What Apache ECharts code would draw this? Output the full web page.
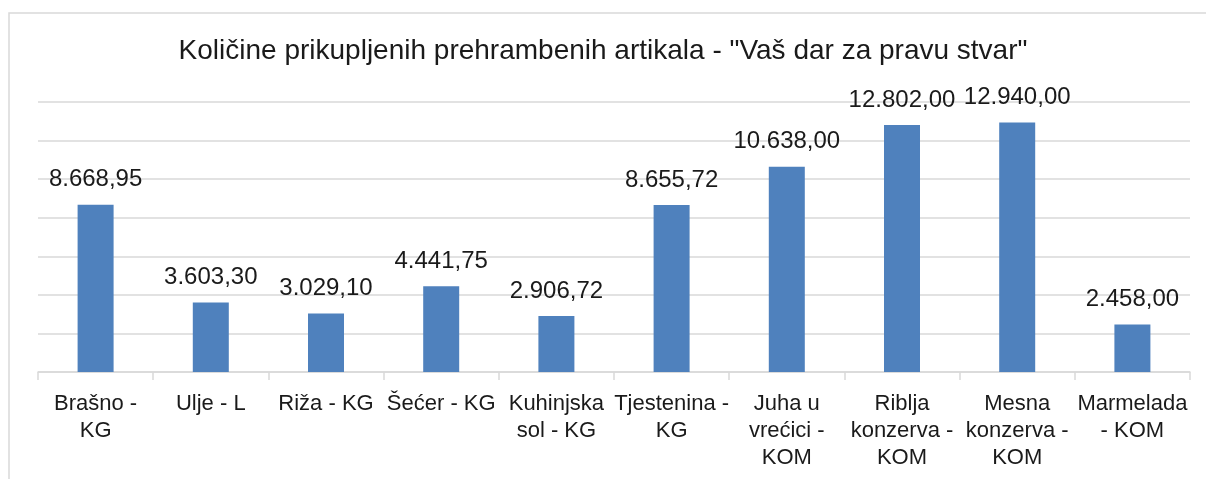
<!DOCTYPE html>
<html>
<head>
<meta charset="utf-8">
<script src="https://cdn.jsdelivr.net/npm/echarts@6/dist/echarts.min.js"></script>
<style>
	html, body { margin: 0; padding: 0; background: #fff; }
	#chart { width: 1206px; height: 479px; }
</style>
</head>
<body>
<div id="chart"></div>
<script>
	const titleText = 'Količine prikupljenih prehrambenih artikala - "Vaš dar za pravu stvar"';
	const categories = ['Brašno -\nKG', 'Ulje - L', 'Riža - KG', 'Šećer - KG', 'Kuhinjska\nsol - KG',
		'Tjestenina -\nKG', 'Juha u\nvrećici -\nKOM', 'Riblja\nkonzerva -\nKOM', 'Mesna\nkonzerva -\nKOM', 'Marmelada\n- KOM'];
	const amounts = [8668.95, 3603.30, 3029.10, 4441.75, 2906.72, 8655.72, 10638.00, 12802.00, 12940.00, 2458.00];

	// 1.234,56 style
	function fmt(v) {
		let parts = v.toFixed(2).split('.');
		let int = parts[0].replace(/\B(?=(\d{3})+(?!\d))/g, '.');
		return int + ',' + parts[1];
	}

	let chart = echarts.init(document.getElementById('chart'));
	const font = 'Liberation Sans, Arial, sans-serif';
	const option = {
		backgroundColor: '#fff',
		animation: false,
		textStyle: { fontFamily: font },
		graphic: [{
			type: 'rect',
			shape: { x: 9, y: 13, width: 1210, height: 480 },
			style: { fill: 'none', stroke: '#d9d9d9', lineWidth: 1.5 },
			silent: true
		}],
		title: {
			text: titleText,
			left: 'center',
			top: 32,
			textStyle: { color: '#1a1a1a', fontSize: 28, fontWeight: 'normal', fontFamily: font }
		},
		grid: { left: 38, right: 16, top: 102, bottom: 107 },
		xAxis: {
			type: 'category',
			data: categories,
			axisLine: { lineStyle: { color: '#d9d9d9', width: 1.5 } },
			axisTick: { show: true, alignWithLabel: false, length: 8, lineStyle: { color: '#d9d9d9', width: 1.5 } },
			axisLabel: { color: '#1a1a1a', fontSize: 22, lineHeight: 27, margin: 18, interval: 0, fontFamily: font }
		},
		yAxis: {
			type: 'value',
			min: 0,
			max: 14000,
			interval: 2000,
			axisLabel: { show: false },
			axisLine: { show: false },
			axisTick: { show: false },
			splitLine: { lineStyle: { color: '#d9d9d9', width: 1.5 } }
		},
		series: [{
			type: 'bar',
			data: amounts,
			barWidth: 36,
			itemStyle: { color: '#4f81bd' },
			label: {
				show: true,
				position: 'top',
				distance: 13,
				color: '#1a1a1a',
				fontSize: 24,
				fontFamily: font,
				formatter: function(p) { return fmt(p.value); }
			}
		}]
	};
	chart.setOption(option);
</script>
</body>
</html>
